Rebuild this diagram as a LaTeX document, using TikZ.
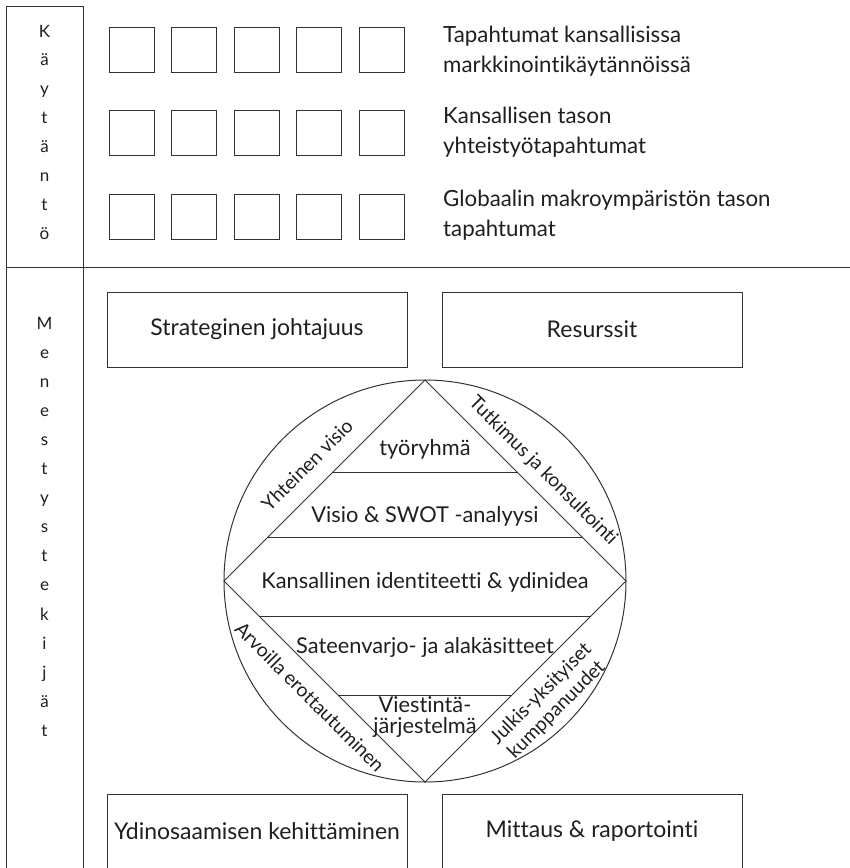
\documentclass[tikz,border=0pt]{standalone}
\usepackage{fontspec}
\setmainfont{Lato}[Ligatures={NoCommon,NoRequired,NoContextual}]
\begin{document}
\begin{tikzpicture}[x=1pt,y=-1pt,
  every node/.style={text=black!88, inner sep=0pt},
  rule/.style={draw=black!80, line width=1pt},
  cell/.style={rule, minimum width=45pt, minimum height=45pt},
  bigbox/.style={rule, minimum width=300pt, minimum height=75pt,
    font=\fontsize{23}{27}\selectfont},
  evtext/.style={anchor=base west, align=left, font=\fontsize{22.3}{30}\selectfont},
  letter/.style={anchor=base, font=\fontsize{17}{19}\selectfont},
  layer/.style={anchor=base, align=center, font=\fontsize{21.8}{21}\selectfont},
  edgelabel/.style={align=center, font=\fontsize{19.4}{22}\selectfont},
]
\clip (0,0) rectangle (850,868);

% outer frame: label column and the divider between the two parts
\draw[rule] (6,880) -- (6,6) -- (83,6) -- (83,880);
\draw[rule] (6,267) -- (850,267);

% column headings, one letter per line
\foreach \ch [count=\i] in {K,ä,y,t,ä,n,t,ö}
  \node[letter] (kay\i) at (44.5,{37+28.9*(\i-1)}) {\ch};
\foreach \ch [count=\i] in {M,e,n,e,s,t,y,s,t,e,k,i,j,ä,t}
  \node[letter] (men\i) at (44.5,{329+29.1*(\i-1)}) {\ch};

% three rows of five event cells
\foreach \r [count=\j] in {49.5,133,216.5}
  \foreach \c in {0,...,4}
    \node[cell] (cell\j\c) at ({131.5+62.5*\c},\r) {};

% event descriptions (anchored on the baseline of the last line)
\node[evtext] (ev1) at (443,72)  {Tapahtumat kansallisissa\\markkinointikäytännöissä};
\node[evtext] (ev2) at (443,153) {Kansallisen tason\\yhteistyötapahtumat};
\node[evtext] (ev3) at (443,236) {Globaalin makroympäristön tason\\tapahtumat};

% four corner boxes
\node[bigbox] (lead) at (257,329.5) {Strateginen johtajuus};
\node[bigbox] (res)  at (592,329.5) {Resurssit};
\node[bigbox] (core) at (257,831.5) {Ydinosaamisen kehittäminen};
\node[bigbox] (meas) at (592,831.5) {Mittaus \& raportointi};

% circle with inscribed diamond
\coordinate (ctr) at (425,581);
\coordinate (dt) at (425,380);
\coordinate (dr) at (626,581);
\coordinate (db) at (425,782);
\coordinate (dl) at (224,581);
\draw[rule] (ctr) circle[radius=201];
\draw[rule] (dt) -- (dr) -- (db) -- (dl) -- cycle;

% layer separators inside the diamond
\draw[rule] (333,472) -- (517,472);
\draw[rule] (268,537) -- (582,537);
\draw[rule] (259,616) -- (591,616);
\draw[rule] (338,695) -- (512,695);

\node[layer] (team)  at (425,455) {työryhmä};
\node[layer] (swot)  at (425,522) {Visio \& SWOT -analyysi};
\node[layer] (ident) at (425,588) {Kansallinen identiteetti \& ydinidea};
\node[layer] (umb)   at (425,653) {Sateenvarjo- ja alakäsitteet};
\node[layer] (comm)  at (425,733) {Viestintä-\\järjestelmä};

% labels in the circle segments
\node[edgelabel, rotate=45]  (vis)  at (307,465) {Yhteinen visio};
\node[edgelabel, rotate=-45] (cons) at (543,471) {Tutkimus ja konsultointi};
\node[edgelabel, rotate=-45] (val)  at (310,697) {Arvoilla erottautuminen};
\node[edgelabel, rotate=45]  (ppp)  at (549,702) {Julkis-yksityiset\\kumppanuudet};
\end{tikzpicture}
\end{document}
